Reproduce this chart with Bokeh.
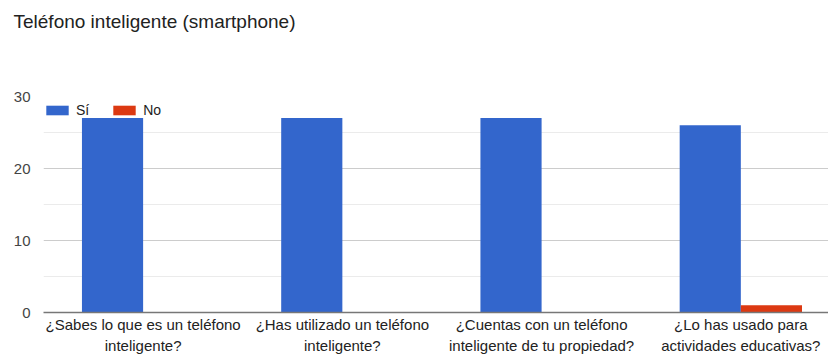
from bokeh.plotting import figure
from bokeh.models import (FixedTicker, Range1d, Legend, LegendItem,
                          ColumnDataSource, Title)
from bokeh.embed import file_html
from bokeh.resources import INLINE

title_text = "Teléfono inteligente (smartphone)"
questions = [
    "¿Sabes lo que es un teléfono\ninteligente?",
    "¿Has utilizado un teléfono\ninteligente?",
    "¿Cuentas con un teléfono\ninteligente de tu propiedad?",
    "¿Lo has usado para\nactividades educativas?",
]
series_names = ["Sí", "No"]
si_values = [27, 27, 27, 26]
no_values = [0, 0, 0, 1]
y_ticks = [0, 10, 20, 30]
y_minor = [5, 15, 25]

BLUE = "#3366cc"
RED = "#dc3912"
FONT = "Liberation Sans"

xs = list(range(len(questions)))
bar_w = 0.307
off = bar_w / 2

p = figure(width=828, height=356, output_backend="svg", toolbar_location=None,
           x_range=Range1d(-0.5, 3.44), y_range=Range1d(0, 30),
           min_border_left=43, min_border_right=0, min_border_top=96,
           min_border_bottom=0, title_location=None)
p.outline_line_color = None

# heading plus an empty band between it and the plotting area
heading = Title(text=title_text, align="left", vertical_align="bottom",
                offset=-30, standoff=0, text_font=FONT,
                text_font_size="19px", text_font_style="normal",
                text_color="#222222")
gap = Title(text=" ", standoff=61, text_font_size="2px")
p.add_layout(gap, "above")
p.add_layout(heading, "above")

src_si = ColumnDataSource(dict(x=[x - off for x in xs], top=si_values))
src_no = ColumnDataSource(dict(x=[x + off for x in xs], top=no_values))
r_si = p.vbar(x="x", top="top", width=bar_w, bottom=0, source=src_si,
              fill_color=BLUE, line_color=None)
r_no = p.vbar(x="x", top="top", width=bar_w, bottom=0, source=src_no,
              fill_color=RED, line_color=None)

# y axis: labels only
p.yaxis.ticker = FixedTicker(ticks=y_ticks, minor_ticks=y_minor)
p.yaxis.axis_line_color = None
p.yaxis.major_tick_line_color = None
p.yaxis.minor_tick_line_color = None
p.yaxis.major_tick_out = 0
p.yaxis.minor_tick_out = 0
p.yaxis.major_label_standoff = 13
p.yaxis.major_label_text_font = FONT
p.yaxis.major_label_text_font_size = "15px"
p.yaxis.major_label_text_color = "#444444"

# x axis: baseline with two-line question labels
p.xaxis.ticker = FixedTicker(ticks=xs)
p.xaxis.major_label_overrides = {i: q for i, q in enumerate(questions)}
p.xaxis.axis_line_color = "#777777"
p.xaxis.axis_line_width = 1.5
p.xaxis.major_tick_line_color = None
p.xaxis.minor_tick_line_color = None
p.xaxis.major_tick_out = 0
p.xaxis.minor_tick_out = 0
p.xaxis.major_label_standoff = 3
p.xaxis.major_label_text_font = FONT
p.xaxis.major_label_text_font_size = "15px"
p.xaxis.major_label_text_color = "#222222"
p.xaxis.major_label_text_line_height = 1.25

p.xgrid.grid_line_color = None
p.ygrid.ticker = FixedTicker(ticks=y_ticks, minor_ticks=y_minor)
p.ygrid.grid_line_color = "#cccccc"
p.ygrid.minor_grid_line_color = "#ebebeb"

legend = Legend(items=[LegendItem(label=series_names[0], renderers=[r_si]),
                       LegendItem(label=series_names[1], renderers=[r_no])],
                location="top_left", orientation="horizontal")
legend.margin = 0
legend.padding = 0
legend.spacing = 21
legend.glyph_width = 28
legend.glyph_height = 12
legend.label_height = 27
legend.label_width = 0
legend.label_standoff = 5
legend.label_text_font = FONT
legend.label_text_font_size = "14px"
legend.label_text_color = "#222222"
legend.background_fill_alpha = 0
legend.border_line_color = None
p.add_layout(legend, "center")

open("out.html", "w").write(file_html(p, INLINE))
